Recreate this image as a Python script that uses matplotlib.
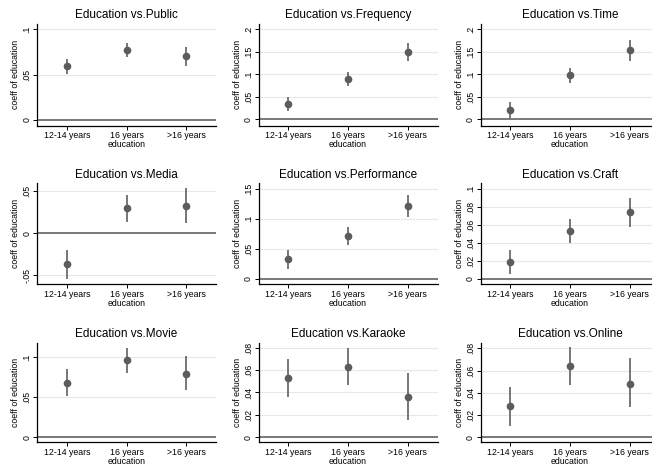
import numpy as np
import matplotlib.pyplot as plt

plt.rcParams['font.family'] = ['Liberation Sans', 'DejaVu Sans']

# Coefficients of education groups (ref: <12 years) with 95% CI
categories = ['12-14 years', '16 years', '>16 years']
outcomes = ['Public', 'Frequency', 'Time', 'Media', 'Performance', 'Craft',
            'Movie', 'Karaoke', 'Online']

coef = {
    'Public':      [0.059, 0.077, 0.071],
    'Frequency':   [0.035, 0.090, 0.150],
    'Time':        [0.020, 0.098, 0.154],
    'Media':       [-0.037, 0.030, 0.033],
    'Performance': [0.033, 0.071, 0.121],
    'Craft':       [0.019, 0.053, 0.074],
    'Movie':       [0.068, 0.096, 0.079],
    'Karaoke':     [0.053, 0.063, 0.036],
    'Online':      [0.028, 0.064, 0.048],
}
ci_low = {
    'Public':      [0.051, 0.069, 0.060],
    'Frequency':   [0.018, 0.075, 0.130],
    'Time':        [0.002, 0.080, 0.130],
    'Media':       [-0.054, 0.014, 0.012],
    'Performance': [0.017, 0.057, 0.103],
    'Craft':       [0.005, 0.040, 0.057],
    'Movie':       [0.051, 0.080, 0.059],
    'Karaoke':     [0.036, 0.047, 0.015],
    'Online':      [0.010, 0.047, 0.027],
}
ci_high = {
    'Public':      [0.067, 0.085, 0.081],
    'Frequency':   [0.050, 0.105, 0.169],
    'Time':        [0.038, 0.114, 0.176],
    'Media':       [-0.020, 0.046, 0.054],
    'Performance': [0.048, 0.086, 0.140],
    'Craft':       [0.032, 0.066, 0.090],
    'Movie':       [0.085, 0.112, 0.101],
    'Karaoke':     [0.070, 0.080, 0.057],
    'Online':      [0.045, 0.081, 0.071],
}
# y axis ticks and limits for each panel
yticks = {
    'Public':      [0, 0.05, 0.1],
    'Frequency':   [0, 0.05, 0.1, 0.15, 0.2],
    'Time':        [0, 0.05, 0.1, 0.15, 0.2],
    'Media':       [-0.05, 0, 0.05],
    'Performance': [0, 0.05, 0.1, 0.15],
    'Craft':       [0, 0.02, 0.04, 0.06, 0.08, 0.1],
    'Movie':       [0, 0.05, 0.1],
    'Karaoke':     [0, 0.02, 0.04, 0.06, 0.08],
    'Online':      [0, 0.02, 0.04, 0.06, 0.08],
}
ylims = {
    'Public':      (-0.0066, 0.106),
    'Frequency':   (-0.014, 0.212),
    'Time':        (-0.014, 0.212),
    'Media':       (-0.0607, 0.0595),
    'Performance': (-0.0093, 0.159),
    'Craft':       (-0.0062, 0.106),
    'Movie':       (-0.0062, 0.118),
    'Karaoke':     (-0.0044, 0.0844),
    'Online':      (-0.0044, 0.085),
}


def stata_label(v):
    if v == 0:
        return '0'
    s = f'{v:g}'
    return s.replace('0.', '.')


W, H = 652, 465
fig = plt.figure(figsize=(W / 100, H / 100), dpi=100)
fig.patch.set_facecolor('white')

lefts = [37, 258.5, 480.5]
tops = [24, 183.3, 342.7]
bottoms = [125.7, 284.3, 442.2]
width = 179

x = np.arange(1, 4)
for i, name in enumerate(outcomes):
    r, c = divmod(i, 3)
    ax = fig.add_axes([lefts[c] / W, 1 - bottoms[r] / H,
                       width / W, (bottoms[r] - tops[r]) / H])
    ax.set_xlim(0.5, 3.5)
    ax.set_ylim(*ylims[name])
    for t in yticks[name]:
        ax.axhline(t, color='#e8e8e8', lw=0.8, zorder=0)
    ax.axhline(0, color='#707070', lw=1.3, zorder=1)

    b = np.array(coef[name])
    lo = np.array(ci_low[name])
    hi = np.array(ci_high[name])
    ax.vlines(x, lo, hi, color='#606060', lw=1.2, zorder=2)
    ax.plot(x, b, 'o', color='#5c5c5c', ms=4.5, zorder=3)

    ax.set_xticks(x)
    ax.set_xticklabels(categories, fontsize=6.3)
    ax.set_yticks(yticks[name])
    ax.set_yticklabels([stata_label(v) for v in yticks[name]],
                       rotation=90, va='center', fontsize=6.3)
    ax.tick_params(length=3, width=0.7, pad=1)
    ax.set_ylabel('coeff of education', fontsize=6.3, labelpad=1.5)
    ax.set_xlabel('education', fontsize=6.3, labelpad=0)
    ax.set_title('Education vs.' + name, fontsize=8.5, pad=4)
    for s in ['top', 'right']:
        ax.spines[s].set_visible(False)
    for s in ['left', 'bottom']:
        ax.spines[s].set_linewidth(0.9)

fig.savefig('out.png', dpi=100, facecolor='white')
